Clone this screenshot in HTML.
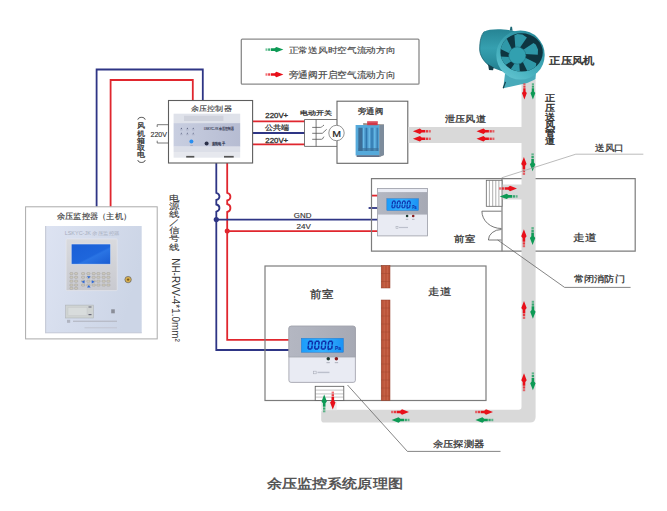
<!DOCTYPE html>
<html><head><meta charset="utf-8">
<style>
html,body{margin:0;padding:0;background:#fff;}
body{width:667px;height:511px;overflow:hidden;font-family:"Liberation Sans",sans-serif;}
svg{display:block;}
svg text{font-family:"Liberation Sans",sans-serif;}
</style></head><body>
<svg width="667" height="511" viewBox="0 0 667 511">
<defs>
 <g id="ar">
  <polygon points="0,0 -7,-2.7 -8.8,-1.3 -12.4,-1.3 -12.4,1.3 -8.8,1.3 -7,2.7"/>
  <rect x="-15.3" y="-1.2" width="2.3" height="2.4" opacity="0.8"/>
  <rect x="-17.9" y="-1.2" width="2" height="2.4" opacity="0.6"/>
 </g>
 <linearGradient id="lcd" x1="0" y1="0" x2="1" y2="0">
  <stop offset="0" stop-color="#1c9cfa"/><stop offset="0.5" stop-color="#34b0ff"/><stop offset="1" stop-color="#1a92f4"/>
 </linearGradient>
 <linearGradient id="lcd2" x1="0" y1="0" x2="1" y2="1">
  <stop offset="0" stop-color="#1a5fd6"/><stop offset="0.55" stop-color="#1e66dc"/><stop offset="0.6" stop-color="#2a74e4"/><stop offset="1" stop-color="#1a5cd2"/>
 </linearGradient>
 <linearGradient id="pgray" x1="0" y1="0" x2="1" y2="0">
  <stop offset="0" stop-color="#b4b7c2"/><stop offset="1" stop-color="#a6a9b4"/>
 </linearGradient>
 <linearGradient id="ctrlface" x1="0" y1="0" x2="1" y2="0">
  <stop offset="0" stop-color="#c8cee0"/><stop offset="1" stop-color="#b6bcd2"/>
 </linearGradient>
 <linearGradient id="maindev" x1="0" y1="0" x2="1" y2="0.3">
  <stop offset="0" stop-color="#dde3f2"/><stop offset="1" stop-color="#ccd5e6"/>
 </linearGradient>
 <linearGradient id="bezel" x1="0" y1="0" x2="0" y2="1">
  <stop offset="0" stop-color="#d9dade"/><stop offset="1" stop-color="#c9cad0"/>
 </linearGradient>
 <linearGradient id="fanbody" x1="0" y1="0" x2="0" y2="1">
  <stop offset="0" stop-color="#268494"/><stop offset="0.4" stop-color="#36a0b0"/><stop offset="0.7" stop-color="#2a8e9e"/><stop offset="1" stop-color="#1e7282"/>
 </linearGradient>
 <linearGradient id="ring" x1="0" y1="1" x2="0.6" y2="0">
  <stop offset="0" stop-color="#6ccad6"/><stop offset="0.4" stop-color="#48b2c0"/><stop offset="1" stop-color="#2a8e9e"/>
 </linearGradient>
 <linearGradient id="damper" x1="0" y1="0" x2="1" y2="0">
  <stop offset="0" stop-color="#3d8fc8"/><stop offset="0.5" stop-color="#6cb4e0"/><stop offset="1" stop-color="#3b86be"/>
 </linearGradient>
</defs>

<!-- ===== LEGEND ===== -->
<rect x="241.3" y="39.2" width="177.7" height="45" rx="1" fill="#fff" stroke="#8a8a8a" stroke-width="1.3"/>
<use href="#ar" transform="translate(283.4,49.6)" fill="#0d9a55"/>
<use href="#ar" transform="translate(283.4,74.5)" fill="#e8101a"/>
<text x="288.8" y="52.9" font-size="8.44" fill="#444" stroke="#444" stroke-width="0.15" textLength="106.5" lengthAdjust="spacingAndGlyphs" >正常送风时空气流动方向</text>
<text x="288.8" y="77.6" font-size="8.65" fill="#444" stroke="#444" stroke-width="0.15" textLength="106.5" lengthAdjust="spacingAndGlyphs" >旁通阀开启空气流动方向</text>

<!-- ===== WIRES ===== -->
<g fill="none" stroke-width="1.8">
 <path d="M96.6,206.8 V69.5 H202.8 V100.5" stroke="#2e3585"/>
 <path d="M110.6,206.8 V80 H192.8 V100.5" stroke="#e0262e"/>
 <path d="M252.5,121.3 H304.5" stroke="#e0262e"/>
 <path d="M252.5,133 H304.5" stroke="#2e3585"/>
 <path d="M252.5,144.4 H304.5" stroke="#e0262e"/>
 <path d="M216.3,163 V192.8 C220.5,194 220.5,199 216.3,200 V204.5 C220.5,205.5 220.5,210.5 216.3,211.6 V350 H289.3" stroke="#2e3585"/>
 <path d="M227.2,163 V192.8 C231.5,194 231.5,199.5 227.2,200.5 V204 C231.5,205 231.5,211 227.2,212 V339.8 H289.3" stroke="#e0262e"/>
 <path d="M216.3,219.7 H378" stroke="#2e3585"/>
 <path d="M227.2,231.1 H378" stroke="#e0262e"/>
 <path d="M368.6,208 H378" stroke="#2e3585"/>
 <path d="M371.5,195.6 H378" stroke="#e0262e"/>
</g>
<circle cx="216.3" cy="219.6" r="2.6" fill="#2e3585"/>
<circle cx="227.2" cy="231.1" r="2.5" fill="#e0262e"/>

<!-- ===== MAIN UNIT ===== -->
<rect x="25.6" y="206.8" width="131.6" height="132.1" fill="#fff" stroke="#aaa" stroke-width="1"/>
<text x="57.0" y="219.2" font-size="7.71" fill="#3a3a3a" stroke="#3a3a3a" stroke-width="0.15" textLength="74.0" lengthAdjust="spacingAndGlyphs" >余压监控器（主机）</text>
<rect x="45" y="226" width="96.7" height="107" fill="url(#maindev)"/>
<rect x="45" y="226" width="1.2" height="107" fill="#c8ccd8"/>
<rect x="45" y="332.3" width="96.7" height="1" fill="#c6cad8"/>
<text x="64.7" y="235.3" font-size="5" fill="#a8aebe" textLength="55" lengthAdjust="spacingAndGlyphs">LSKYC-JK 余压监控器</text>
<rect x="66.1" y="238.9" width="51.1" height="51.7" rx="1" fill="url(#bezel)" stroke="#e8e9ee" stroke-width="0.6"/>
<rect x="71.2" y="244" width="39.5" height="20.2" fill="url(#lcd2)" stroke="#e0e4ee" stroke-width="0.6"/>
<g fill="#cfcbbf" stroke="#8e8c84" stroke-width="0.35">
<rect x="69.9" y="272.6" width="3" height="2" rx="0.6"/>
<rect x="74.6" y="272.6" width="3" height="2" rx="0.6"/>
<rect x="81.5" y="272.6" width="3.2" height="2" rx="0.6"/>
<rect x="86.8" y="272.6" width="3.2" height="2" rx="0.6"/>
<rect x="92.1" y="272.6" width="3.2" height="2" rx="0.6"/>
<rect x="96.8" y="272.6" width="3.2" height="2" rx="0.6"/>
<rect x="102.1" y="272.6" width="3.2" height="2" rx="0.6"/>
<rect x="106.8" y="272.6" width="3.2" height="2" rx="0.6"/>
<rect x="69.9" y="276.3" width="3" height="2" rx="0.6"/>
<rect x="74.6" y="276.3" width="3" height="2" rx="0.6"/>
<rect x="81.5" y="276.3" width="3.2" height="2" rx="0.6"/>
<rect x="86.8" y="276.3" width="3.2" height="2" rx="0.6"/>
<rect x="92.1" y="276.3" width="3.2" height="2" rx="0.6"/>
<rect x="96.8" y="276.3" width="3.2" height="2" rx="0.6"/>
<rect x="102.1" y="276.3" width="3.2" height="2" rx="0.6"/>
<rect x="106.8" y="276.3" width="3.2" height="2" rx="0.6"/>
<rect x="69.9" y="280.2" width="3" height="2" rx="0.6"/>
<rect x="74.6" y="280.2" width="3" height="2" rx="0.6"/>
<rect x="81.5" y="280.2" width="3.2" height="2" rx="0.6"/>
<rect x="86.8" y="280.2" width="3.2" height="2" rx="0.6"/>
<rect x="92.1" y="280.2" width="3.2" height="2" rx="0.6"/>
<rect x="96.8" y="280.2" width="3.2" height="2" rx="0.6"/>
<rect x="102.1" y="280.2" width="3.2" height="2" rx="0.6"/>
<rect x="106.8" y="280.2" width="3.2" height="2" rx="0.6"/>
<rect x="69.9" y="284.1" width="3" height="2" rx="0.6"/>
<rect x="74.6" y="284.1" width="3" height="2" rx="0.6"/>
<rect x="81.5" y="284.1" width="3.2" height="2" rx="0.6"/>
<rect x="86.8" y="284.1" width="3.2" height="2" rx="0.6"/>
<rect x="92.1" y="284.1" width="3.2" height="2" rx="0.6"/>
<rect x="96.8" y="284.1" width="3.2" height="2" rx="0.6"/>
<rect x="102.1" y="284.1" width="3.2" height="2" rx="0.6"/>
<rect x="106.8" y="284.1" width="3.2" height="2" rx="0.6"/>
<rect x="69.9" y="287.3" width="3" height="2" rx="0.6"/>
<rect x="74.6" y="287.3" width="3" height="2" rx="0.6"/>
</g>
<g fill="#2f6ad8">
 <polygon points="87,276.2 90.6,276.2 88.8,278.6"/>
 <polygon points="81.5,281.8 84.5,280.2 84.5,283.4"/>
 <polygon points="94.7,281.8 91.7,280.2 91.7,283.4"/>
 <polygon points="87,287.4 90.6,287.4 88.8,285"/>
</g>
<circle cx="128.1" cy="279.6" r="3.2" fill="#d8b050" stroke="#666" stroke-width="0.7"/>
<circle cx="128.1" cy="279.6" r="1.2" fill="#7a5a20"/>
<rect x="65.6" y="305.1" width="27.7" height="12.9" fill="#cfd3d2" stroke="#b0b4b8" stroke-width="0.6"/>
<rect x="68" y="307.3" width="19" height="8.4" fill="#d8dcdc" stroke="#c0c4c6" stroke-width="0.4"/>
<rect x="88.5" y="306.5" width="3" height="1" fill="#667"/>
<rect x="88.5" y="314" width="3" height="1.2" fill="#667"/>
<rect x="111.2" y="309.3" width="3.6" height="4" fill="#8a8e98"/>
<rect x="67" y="319.8" width="3.2" height="3" fill="#b0b4c0"/>
<rect x="73" y="320.6" width="44" height="1.4" fill="#b8bcc8"/>
<rect x="84.5" y="327.2" width="32.5" height="1.1" fill="#c4c8d4"/>

<!-- ===== CONTROLLER ===== -->
<rect x="168.5" y="100.5" width="84.1" height="62.5" fill="#fff" stroke="#5e5e5e" stroke-width="1.1"/>
<text x="191.2" y="110.7" font-size="6.87" fill="#3a3a3a" stroke="#3a3a3a" stroke-width="0.12" textLength="40.4" lengthAdjust="spacingAndGlyphs" >余压控制器</text>
<rect x="173.6" y="113.7" width="66.6" height="9.4" fill="#dfe2ea"/>
<rect x="184" y="115.8" width="39.4" height="5.2" fill="#cfd2dc"/>
<rect x="173.6" y="123.1" width="66.6" height="23.6" fill="url(#ctrlface)"/>
<rect x="173.6" y="146.7" width="66.6" height="5.3" fill="#dcdfe8"/>
<rect x="173.6" y="152" width="66.6" height="5.7" fill="#e6e8ee"/>
<rect x="186.2" y="155.9" width="8.1" height="1.7" fill="#555"/>
<rect x="224" y="155.9" width="9.7" height="1.7" fill="#555"/>
<g fill="#5a6280">
 <path d="M180.6,128.9 l0.75,-1.4 l0.75,1.4 z M186.6,128.9 l0.75,-1.4 l0.75,1.4 z M192.5,128.9 l0.75,-1.4 l0.75,1.4 z"/>
 <path d="M180.6,133.8 l0.75,-1.4 l0.75,1.4 z M186.6,133.8 l0.75,-1.4 l0.75,1.4 z M192.5,133.8 l0.75,-1.4 l0.75,1.4 z"/>
</g>
<g fill="#9aa0b8">
 <rect x="180" y="129.6" width="2.6" height="0.6"/><rect x="186" y="129.6" width="2.6" height="0.6"/><rect x="191.9" y="129.6" width="2.6" height="0.6"/>
 <rect x="180" y="134.5" width="2.6" height="0.6"/><rect x="186" y="134.5" width="2.6" height="0.6"/><rect x="191.9" y="134.5" width="2.6" height="0.6"/>
 <rect x="190.3" y="145" width="2.6" height="0.6"/>
</g>
<circle cx="191.4" cy="141.6" r="2" fill="#2a8ff0"/>
<text x="204" y="129.9" font-size="4" fill="#3a4058" stroke="#3a4058" stroke-width="0.15" textLength="29.9" lengthAdjust="spacingAndGlyphs">LNKYC-YK 余压控制器</text>
<circle cx="206.6" cy="143.6" r="2" fill="#2a3048"/>
<text x="211.9" y="145.2" font-size="4" fill="#2a3048" stroke="#2a3048" stroke-width="0.15" textLength="13.1" lengthAdjust="spacingAndGlyphs">蓝能电子</text>

<!-- 220V bracket -->
<path d="M157.2,127 V124.7 H168.5 M157.2,140.7 V143 H168.5" fill="none" stroke="#555" stroke-width="0.8"/>
<text x="150.5" y="136.8" font-size="8.10" fill="#333" stroke="#333" stroke-width="0.15" textLength="16.5" lengthAdjust="spacingAndGlyphs" >220V</text>
<path d="M137.8,119.6 C138.3,116.6 144.7,116.6 145.2,119.6" fill="none" stroke="#333" stroke-width="0.9"/>
<path d="M137.8,160.2 C138.3,163.2 144.7,163.2 145.2,160.2" fill="none" stroke="#333" stroke-width="0.9"/>
<text transform="translate(141.40,127.90) scale(1.149,1)" font-size="7.30" fill="#333" stroke="#333" stroke-width="0.26" text-anchor="middle">风</text>
<text transform="translate(141.40,135.70) scale(1.149,1)" font-size="7.30" fill="#333" stroke="#333" stroke-width="0.26" text-anchor="middle">机</text>
<text transform="translate(141.40,142.75) scale(1.149,1)" font-size="7.30" fill="#333" stroke="#333" stroke-width="0.26" text-anchor="middle">箱</text>
<text transform="translate(141.40,149.75) scale(1.149,1)" font-size="7.30" fill="#333" stroke="#333" stroke-width="0.26" text-anchor="middle">取</text>
<text transform="translate(141.40,157.00) scale(1.149,1)" font-size="7.30" fill="#333" stroke="#333" stroke-width="0.26" text-anchor="middle">电</text>

<!-- wire labels -->
<text x="265.3" y="117.8" font-size="6.42" fill="#333" stroke="#333" stroke-width="0.3" textLength="22.9" lengthAdjust="spacingAndGlyphs" >220V+</text>
<text x="265.1" y="130.0" font-size="6.56" fill="#333" stroke="#333" stroke-width="0.25" textLength="24.3" lengthAdjust="spacingAndGlyphs" >公共端</text>
<text x="265.3" y="142.5" font-size="6.42" fill="#333" stroke="#333" stroke-width="0.3" textLength="22.9" lengthAdjust="spacingAndGlyphs" >220V+</text>
<text x="300.3" y="114.9" font-size="6.46" fill="#333" stroke="#333" stroke-width="0.25" textLength="32.1" lengthAdjust="spacingAndGlyphs" >电动开关</text>
<text x="293.8" y="217.6" font-size="7.82" fill="#333" stroke="#333" stroke-width="0.15" textLength="17.6" lengthAdjust="spacingAndGlyphs" >GND</text>
<text x="296.5" y="228.8" font-size="7.82" fill="#333" stroke="#333" stroke-width="0.15" textLength="14.3" lengthAdjust="spacingAndGlyphs" >24V</text>

<!-- switch -->
<g fill="none" stroke="#555" stroke-width="0.8">
 <path d="M304.5,119.5 H337 M304.5,146.4 H337 M304.5,119.5 V146.4 M316.1,119.5 V146.4"/>
 <path d="M312.2,127.4 H320.5 q1.2,0 1.8,-1 q0.6,-1 1.7,-1.2 M312.2,133.3 H322.3 L326.7,129.3 M312.2,139.3 H321.4 q1.2,0 1.6,-1.2 q0.4,-1.2 1.2,-1.4"/>
</g>
<!-- 旁通阀 box -->
<rect x="337" y="101.2" width="70.8" height="62.1" fill="none" stroke="#666" stroke-width="1.1"/>
<circle cx="336.5" cy="133" r="7.7" fill="#fff" stroke="#777" stroke-width="0.8"/>
<text x="332.2" y="136.5" font-size="9.08" fill="#222" stroke="#222" stroke-width="0.2" textLength="8.8" lengthAdjust="spacingAndGlyphs" >M</text>
<text x="358.1" y="114.2" font-size="7.81" fill="#333" stroke="#333" stroke-width="0.25" textLength="24.9" lengthAdjust="spacingAndGlyphs" >旁通阀</text>
<!-- damper -->
<polygon points="363.2,123 384,124.6 384,155 379.3,157 379.3,125 363.2,125" fill="#9a9088"/>
<polygon points="379.3,125 384,124.6 384,155 379.3,157" fill="#7d8c9c"/>
<rect x="355.6" y="125" width="23.7" height="30.5" fill="#56aadb"/>
<rect x="356.6" y="155.3" width="22.7" height="1.6" fill="#50607a"/>
<rect x="358.4" y="127.8" width="20.1" height="23.2" fill="#4d98cc"/>
<rect x="358.4" y="127.8" width="4" height="23.2" fill="#3d6e96"/>
<g stroke-width="1.3">
 <path d="M363.6,127.8 V151" stroke="#68bce8"/>
 <path d="M366.4,127.8 V151" stroke="#2f78ae"/>
 <path d="M369.2,127.8 V151" stroke="#6cc0ea"/>
 <path d="M372,127.8 V151" stroke="#2f78ae"/>
 <path d="M374.8,127.8 V151" stroke="#68bce8"/>
 <path d="M377.4,127.8 V151" stroke="#3a80b4"/>
</g>
<rect x="358.4" y="148" width="20.1" height="3" fill="#3a6c94" opacity="0.6"/>
<rect x="367.2" y="121.4" width="10.5" height="3.8" fill="#d03848"/>
<rect x="367.2" y="121.4" width="10.5" height="1.2" fill="#e06070"/>
<!-- ===== UPPER ROOM ===== -->
<g fill="none" stroke="#7c7c7c" stroke-width="1.2">
 <path d="M371.5,178.6 H635.2 V251.2 H371.5 Z"/>
 <path d="M502,178.6 V251.2"/>
</g>
<text x="454.3" y="241.7" font-size="9.38" fill="#333" stroke="#333" stroke-width="0.28" textLength="20.7" lengthAdjust="spacingAndGlyphs" >前室</text>
<text x="573.4" y="240.7" font-size="10.31" fill="#333" stroke="#333" stroke-width="0.25" textLength="23.4" lengthAdjust="spacingAndGlyphs" >走道</text>

<!-- ===== LOWER ROOM ===== -->
<rect x="265" y="266" width="221" height="134.5" fill="none" stroke="#7c7c7c" stroke-width="1.2"/>
<rect x="381.2" y="265.5" width="8.8" height="22.5" fill="#bc553a"/>
<line x1="384.2" y1="265.5" x2="384.2" y2="288" stroke="#cf7458" stroke-width="0.6"/>
<line x1="387.4" y1="265.5" x2="387.4" y2="288" stroke="#cf7458" stroke-width="0.5"/>
<line x1="381.2" y1="273.5" x2="390.0" y2="273.5" stroke="#a04830" stroke-width="0.5"/>
<line x1="381.2" y1="281.5" x2="390.0" y2="281.5" stroke="#a04830" stroke-width="0.5"/>
<rect x="381.2" y="265.5" width="8.8" height="22.5" fill="none" stroke="#8e3a24" stroke-width="0.5"/>
<rect x="381.2" y="300" width="8.8" height="100.5" fill="#bc553a"/>
<line x1="384.2" y1="300" x2="384.2" y2="400.5" stroke="#cf7458" stroke-width="0.6"/>
<line x1="387.4" y1="300" x2="387.4" y2="400.5" stroke="#cf7458" stroke-width="0.5"/>
<line x1="381.2" y1="308.0" x2="390.0" y2="308.0" stroke="#a04830" stroke-width="0.5"/>
<line x1="381.2" y1="316.0" x2="390.0" y2="316.0" stroke="#a04830" stroke-width="0.5"/>
<line x1="381.2" y1="324.0" x2="390.0" y2="324.0" stroke="#a04830" stroke-width="0.5"/>
<line x1="381.2" y1="332.0" x2="390.0" y2="332.0" stroke="#a04830" stroke-width="0.5"/>
<line x1="381.2" y1="340.0" x2="390.0" y2="340.0" stroke="#a04830" stroke-width="0.5"/>
<line x1="381.2" y1="348.0" x2="390.0" y2="348.0" stroke="#a04830" stroke-width="0.5"/>
<line x1="381.2" y1="356.0" x2="390.0" y2="356.0" stroke="#a04830" stroke-width="0.5"/>
<line x1="381.2" y1="364.0" x2="390.0" y2="364.0" stroke="#a04830" stroke-width="0.5"/>
<line x1="381.2" y1="372.0" x2="390.0" y2="372.0" stroke="#a04830" stroke-width="0.5"/>
<line x1="381.2" y1="380.0" x2="390.0" y2="380.0" stroke="#a04830" stroke-width="0.5"/>
<line x1="381.2" y1="388.0" x2="390.0" y2="388.0" stroke="#a04830" stroke-width="0.5"/>
<line x1="381.2" y1="396.0" x2="390.0" y2="396.0" stroke="#a04830" stroke-width="0.5"/>
<rect x="381.2" y="300" width="8.8" height="100.5" fill="none" stroke="#8e3a24" stroke-width="0.5"/>
<text x="310.1" y="297.7" font-size="10.52" fill="#333" stroke="#333" stroke-width="0.28" textLength="23.0" lengthAdjust="spacingAndGlyphs" >前室</text>
<text x="428.1" y="295.1" font-size="10.21" fill="#333" stroke="#333" stroke-width="0.25" textLength="22.9" lengthAdjust="spacingAndGlyphs" >走道</text>

<!-- ===== DUCTS ===== -->
<g fill="#d9d9d9">
 <rect x="408" y="127" width="114" height="16"/>
 <path d="M521.5,80 H535.6 V416.9 Q535.6,422.5 530,422.5 H324 Q321.2,422.5 321.2,419.7 V412.5 Q321.2,409.8 324,409.8 H518.8 Q521.5,409.8 521.5,407.1 Z"/>
 <rect x="502" y="184.5" width="20" height="15"/>
</g>
<rect x="321.2" y="401.2" width="15.5" height="9" fill="#ebecec"/>

<!-- grill -->
<rect x="486.3" y="180.3" width="15.7" height="26" fill="#fff" stroke="#666" stroke-width="0.8"/>
<path d="M489.4,180.3 V206.3 M492.7,180.3 V206.3 M495.8,180.3 V206.3 M498.9,180.3 V206.3" stroke="#777" stroke-width="0.6"/>
<!-- doors -->
<g fill="none" stroke="#555" stroke-width="0.8">
 <path d="M481.9,211.2 H501.4 M481.9,211.2 A19.5,17.3 0 0 0 501.4,228.5"/>
 <path d="M488.4,240 H501.4 M488.4,240 A13,10.5 0 0 1 501.4,229.5"/>
</g>

<!-- upper panel -->
<rect x="377.5" y="188.5" width="50" height="47.4" rx="0" fill="#e9ebf3" stroke="#9a9ca6" stroke-width="0.8"/>
<rect x="377.90" y="192.10" width="49.20" height="22.47" fill="url(#pgray)"/>
<rect x="386.85" y="198.69" width="31.65" height="11.80" fill="url(#lcd)" stroke="#1a70c8" stroke-width="0.4"/>
<path d="M392.08,201.15 L394.44,201.15 M392.08,207.80 L394.44,207.80 M391.85,201.38 L391.85,204.25 M391.85,204.70 L391.85,207.57 M394.67,201.38 L394.67,204.25 M394.67,204.70 L394.67,207.57" stroke="#0c2ca8" stroke-width="1.14" stroke-linecap="butt" fill="none" transform="translate(391.85,207.80) skewX(-6) translate(-391.85,-207.80)"/>
<path d="M397.08,201.15 L399.44,201.15 M397.08,207.80 L399.44,207.80 M396.85,201.38 L396.85,204.25 M396.85,204.70 L396.85,207.57 M399.67,201.38 L399.67,204.25 M399.67,204.70 L399.67,207.57" stroke="#0c2ca8" stroke-width="1.14" stroke-linecap="butt" fill="none" transform="translate(396.85,207.80) skewX(-6) translate(-396.85,-207.80)"/>
<path d="M402.08,201.15 L404.44,201.15 M402.08,207.80 L404.44,207.80 M401.85,201.38 L401.85,204.25 M401.85,204.70 L401.85,207.57 M404.67,201.38 L404.67,204.25 M404.67,204.70 L404.67,207.57" stroke="#0c2ca8" stroke-width="1.14" stroke-linecap="butt" fill="none" transform="translate(401.85,207.80) skewX(-6) translate(-401.85,-207.80)"/>
<path d="M407.08,201.15 L409.44,201.15 M407.08,207.80 L409.44,207.80 M406.85,201.38 L406.85,204.25 M406.85,204.70 L406.85,207.57 M409.67,201.38 L409.67,204.25 M409.67,204.70 L409.67,207.57" stroke="#0c2ca8" stroke-width="1.14" stroke-linecap="butt" fill="none" transform="translate(406.85,207.80) skewX(-6) translate(-406.85,-207.80)"/>
<circle cx="407.11" cy="208.13" r="0.51" fill="#0c2ca8"/>
<text x="412.17" y="208.61" font-size="4.96" fill="#0c2ca8" font-weight="bold" textLength="4.43" lengthAdjust="spacingAndGlyphs">Pa</text>
<circle cx="407.10" cy="215.99" r="1.30" fill="#1e3a30"/>
<circle cx="413.20" cy="215.99" r="1.30" fill="#8a1a1a"/>
<rect x="405.75" y="218.84" width="2.50" height="0.87" fill="#a8acb8"/>
<rect x="412.00" y="218.84" width="2.50" height="0.87" fill="#a8acb8"/>
<rect x="396.00" y="226.42" width="2.00" height="2.00" fill="none" stroke="#a0a4b0" stroke-width="0.5"/>
<rect x="399.00" y="226.89" width="9.00" height="1.19" fill="#bcc0cc"/>
<!-- lower panel -->
<rect x="288.9" y="326.2" width="66.5" height="56.2" rx="2.2" fill="#e9ebf3" stroke="#9a9ca6" stroke-width="0.8"/>
<path d="M288.90,357.11 V328.40 Q288.90,326.20 291.10,326.20 H353.20 Q355.40,326.20 355.40,328.40 V357.11 Z" fill="url(#pgray)" stroke="#9a9ca6" stroke-width="0.6"/>
<rect x="301.34" y="338.28" width="42.09" height="13.99" fill="url(#lcd)" stroke="#1a70c8" stroke-width="0.4"/>
<path d="M308.29,341.28 L311.43,341.28 M308.29,349.00 L311.43,349.00 M307.99,341.58 L307.99,344.84 M307.99,345.44 L307.99,348.70 M311.73,341.58 L311.73,344.84 M311.73,345.44 L311.73,348.70" stroke="#0c2ca8" stroke-width="1.52" stroke-linecap="butt" fill="none" transform="translate(307.99,349.00) skewX(-6) translate(-307.99,-349.00)"/>
<path d="M314.94,341.28 L318.08,341.28 M314.94,349.00 L318.08,349.00 M314.64,341.58 L314.64,344.84 M314.64,345.44 L314.64,348.70 M318.38,341.58 L318.38,344.84 M318.38,345.44 L318.38,348.70" stroke="#0c2ca8" stroke-width="1.52" stroke-linecap="butt" fill="none" transform="translate(314.64,349.00) skewX(-6) translate(-314.64,-349.00)"/>
<path d="M321.59,341.28 L324.73,341.28 M321.59,349.00 L324.73,349.00 M321.29,341.58 L321.29,344.84 M321.29,345.44 L321.29,348.70 M325.03,341.58 L325.03,344.84 M325.03,345.44 L325.03,348.70" stroke="#0c2ca8" stroke-width="1.52" stroke-linecap="butt" fill="none" transform="translate(321.29,349.00) skewX(-6) translate(-321.29,-349.00)"/>
<path d="M328.24,341.28 L331.38,341.28 M328.24,349.00 L331.38,349.00 M327.94,341.58 L327.94,344.84 M327.94,345.44 L327.94,348.70 M331.69,341.58 L331.69,344.84 M331.69,345.44 L331.69,348.70" stroke="#0c2ca8" stroke-width="1.52" stroke-linecap="butt" fill="none" transform="translate(327.94,349.00) skewX(-6) translate(-327.94,-349.00)"/>
<circle cx="328.28" cy="349.48" r="0.68" fill="#0c2ca8"/>
<text x="335.01" y="350.04" font-size="5.88" fill="#0c2ca8" font-weight="bold" textLength="5.89" lengthAdjust="spacingAndGlyphs">Pa</text>
<circle cx="328.27" cy="358.80" r="1.73" fill="#1e3a30"/>
<circle cx="336.38" cy="358.80" r="1.73" fill="#8a1a1a"/>
<rect x="326.47" y="362.17" width="3.33" height="0.97" fill="#a8acb8"/>
<rect x="334.78" y="362.17" width="3.33" height="0.97" fill="#a8acb8"/>
<rect x="313.50" y="371.16" width="2.66" height="2.66" fill="none" stroke="#a0a4b0" stroke-width="0.5"/>
<rect x="317.50" y="371.72" width="11.97" height="1.41" fill="#bcc0cc"/>
<!-- detector grill -->
<rect x="315.2" y="386.3" width="28.6" height="14.3" fill="#fff" stroke="#555" stroke-width="0.8"/>
<path d="M315.2,390.1 H343.8 M315.2,393.9 H343.8 M315.2,397.1 H343.8" stroke="#888" stroke-width="0.5"/>

<!-- ===== FAN ===== -->
<g>
 <polygon points="509.7,30.8 510.5,26.7 512,26.7 512.6,30.8" fill="#1d6876"/>
 <path d="M484.4,31.4 C490,29 503,27.8 520,32.6 L520,76 C510,74 500,71 492.6,67.8 C484,63 479.5,55 479.7,49 C479.8,41 481,35 484.4,31.4 Z" fill="url(#fanbody)"/>
 <path d="M484.4,31.4 C481,35 479.8,41 479.7,49 C479.5,55 484,63 492.6,67.8" fill="none" stroke="#1a6474" stroke-width="0.8"/>
 <polygon points="488,64.3 493.8,67.5 493,70.2 489,70" fill="#163f4a"/>
 <polygon points="503.2,88.2 505,74 536,72 535.5,79.2 527.2,83" fill="#48aaba"/>
 <path d="M503.2,88.2 L505.5,81.9" stroke="#14404a" stroke-width="1.2"/>
 <ellipse cx="520.5" cy="55" rx="24.2" ry="24.5" fill="url(#ring)"/>
 <ellipse cx="521.6" cy="52.4" rx="21.2" ry="19.2" fill="#0e3540"/>
 <clipPath id="fanclip"><ellipse cx="521.6" cy="52.4" rx="21.2" ry="19.2"/></clipPath>
 <g fill="#2f98a8" clip-path="url(#fanclip)">
<polygon points="515.4,47.9 519.7,48.1 526.9,37.4 522.5,34.6 517.3,34.0 514.4,35.2"/>
<polygon points="522.9,50.1 524.9,53.9 537.8,54.8 538.0,49.6 535.9,44.8 533.5,42.9"/>
<polygon points="524.8,57.6 522.5,61.3 528.2,72.9 532.8,70.4 535.9,66.2 536.3,63.2"/>
<polygon points="519.2,63.1 514.9,62.9 507.7,73.6 512.1,76.4 517.3,77.0 520.2,75.8"/>
<polygon points="511.7,60.9 509.7,57.1 496.8,56.2 496.6,61.4 498.7,66.2 501.1,68.1"/>
<polygon points="509.8,53.4 512.1,49.7 506.4,38.1 501.8,40.6 498.7,44.8 498.3,47.8"/>
 </g>
 <circle cx="517.3" cy="55.5" r="8.6" fill="#32a0b0" stroke="#1d6a78" stroke-width="0.5"/>
</g>
<text x="549.4" y="63.6" font-size="9.79" fill="#333" stroke="#333" stroke-width="0.45" textLength="45.4" lengthAdjust="spacingAndGlyphs" >正压风机</text>
<text transform="translate(549.35,101.43) scale(1.125,1)" font-size="8.60" fill="#333" stroke="#333" stroke-width="0.40" text-anchor="middle">正</text>
<text transform="translate(549.35,110.83) scale(1.125,1)" font-size="8.60" fill="#333" stroke="#333" stroke-width="0.40" text-anchor="middle">压</text>
<text transform="translate(549.35,119.68) scale(1.125,1)" font-size="8.60" fill="#333" stroke="#333" stroke-width="0.40" text-anchor="middle">送</text>
<text transform="translate(549.35,128.48) scale(1.125,1)" font-size="8.60" fill="#333" stroke="#333" stroke-width="0.40" text-anchor="middle">风</text>
<text transform="translate(549.35,136.38) scale(1.125,1)" font-size="8.60" fill="#333" stroke="#333" stroke-width="0.40" text-anchor="middle">管</text>
<text transform="translate(549.35,144.33) scale(1.125,1)" font-size="8.60" fill="#333" stroke="#333" stroke-width="0.40" text-anchor="middle">道</text>
<text x="445.1" y="122.2" font-size="9.06" fill="#333" stroke="#333" stroke-width="0.28" textLength="40.7" lengthAdjust="spacingAndGlyphs" >泄压风道</text>

<!-- ===== ARROWS ===== -->
<g fill="#e8101a">
 <use href="#ar" transform="translate(524.4,99.4) rotate(90) scale(0.9)"/>
 <use href="#ar" transform="translate(412.9,131.3) rotate(180)"/>
 <use href="#ar" transform="translate(412.9,138.8) rotate(180)"/>
 <use href="#ar" transform="translate(476.5,131.3) rotate(180)"/>
 <use href="#ar" transform="translate(476.5,138.8) rotate(180)"/>
 <use href="#ar" transform="translate(523.9,157) rotate(-90)"/>
 <use href="#ar" transform="translate(517,188.5)"/>
 <use href="#ar" transform="translate(523.9,229.3) rotate(-90)"/>
 <use href="#ar" transform="translate(524,301) rotate(-90)"/>
 <use href="#ar" transform="translate(524,373.3) rotate(-90)"/>
 <use href="#ar" transform="translate(409,412) "/>
 <use href="#ar" transform="translate(493,412) "/>
 <use href="#ar" transform="translate(332.8,409.5) rotate(90)"/>
</g>
<g fill="#0d9a55">
 <use href="#ar" transform="translate(532.9,99.4) rotate(90) scale(0.9)"/>
 <use href="#ar" transform="translate(532.6,171.3) rotate(90)"/>
 <use href="#ar" transform="translate(499.7,196.4) rotate(180)"/>
 <use href="#ar" transform="translate(532.6,245) rotate(90)"/>
 <use href="#ar" transform="translate(532.9,318.7) rotate(90)"/>
 <use href="#ar" transform="translate(532.9,390.3) rotate(90)"/>
 <use href="#ar" transform="translate(391.6,420) rotate(180)"/>
 <use href="#ar" transform="translate(475.4,420) rotate(180)"/>
 <use href="#ar" transform="translate(324.2,394.4) rotate(-90)"/>
</g>

<!-- ===== LEADERS & LABELS ===== -->
<g fill="none" stroke-width="0.8">
 <path d="M501.6,177.8 L575.8,154.2 H643.3" stroke="#aaa"/>
 <path d="M497.7,240 L564.6,287.4 H630.6" stroke="#666"/>
 <path d="M347.5,385 L407.4,451.4 H500.5" stroke="#666"/>
</g>
<text x="595.3" y="150.9" font-size="8.96" fill="#333" stroke="#333" stroke-width="0.25" textLength="28.7" lengthAdjust="spacingAndGlyphs" >送风口</text>
<text x="573.9" y="282.2" font-size="9.27" fill="#333" stroke="#333" stroke-width="0.25" textLength="50.9" lengthAdjust="spacingAndGlyphs" >常闭消防门</text>
<text x="432.8" y="447.2" font-size="9.38" fill="#333" stroke="#333" stroke-width="0.25" textLength="51.6" lengthAdjust="spacingAndGlyphs" >余压探测器</text>

<!-- vertical cable text -->
<text transform="translate(174.40,200.81) scale(1.317,1)" font-size="8.00" fill="#333" stroke="#333" stroke-width="0.09" text-anchor="middle">电</text>
<text transform="translate(174.40,208.86) scale(1.317,1)" font-size="8.00" fill="#333" stroke="#333" stroke-width="0.09" text-anchor="middle">源</text>
<text transform="translate(174.40,216.86) scale(1.317,1)" font-size="8.00" fill="#333" stroke="#333" stroke-width="0.09" text-anchor="middle">线</text>
<text transform="translate(174.40,224.86) scale(1.317,1)" font-size="8.00" fill="#333" stroke="#333" stroke-width="0.09" text-anchor="middle">／</text>
<text transform="translate(174.40,232.91) scale(1.317,1)" font-size="8.00" fill="#333" stroke="#333" stroke-width="0.09" text-anchor="middle">信</text>
<text transform="translate(174.40,241.11) scale(1.317,1)" font-size="8.00" fill="#333" stroke="#333" stroke-width="0.09" text-anchor="middle">号</text>
<text transform="translate(174.40,249.66) scale(1.317,1)" font-size="8.00" fill="#333" stroke="#333" stroke-width="0.09" text-anchor="middle">线</text>
<text transform="translate(172.2,258.3) rotate(90)" font-size="11.6" fill="#333" textLength="83.5" lengthAdjust="spacingAndGlyphs">NH-RVV-4*1.0mm²</text>

<!-- title -->
<text x="266.6" y="488.4" font-size="12.71" fill="#555" stroke="#555" stroke-width="0" textLength="136.3" lengthAdjust="spacingAndGlyphs" font-weight="bold">余压监控系统原理图</text>
</svg>
</body></html>
